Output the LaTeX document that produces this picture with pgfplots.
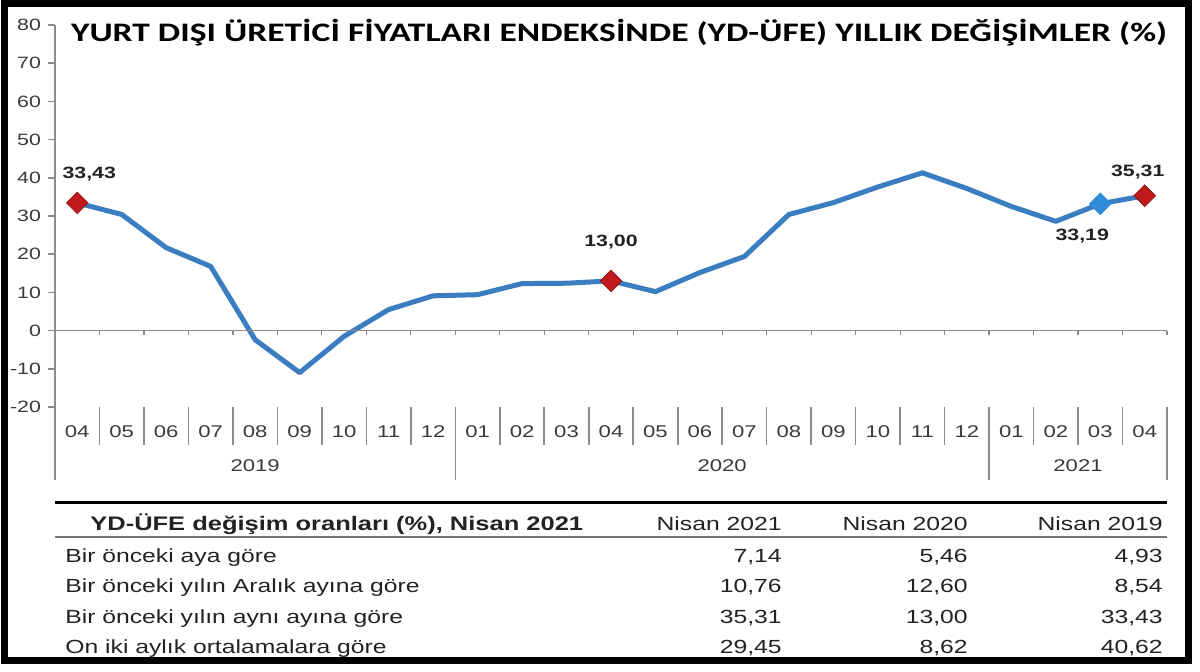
\documentclass[border=0pt]{standalone}
\usepackage{pgfplots}
\pgfplotsset{compat=1.18}
\usepackage{fontspec}
\setmainfont[FakeStretch=1.3]{Liberation Sans}
\newfontfamily\titlefont[FakeStretch=1.33]{Carlito}

\definecolor{lineblue}{HTML}{3A7DC0}
\definecolor{mkblue}{HTML}{2F8BDA}
\definecolor{mkred}{HTML}{BE1A1A}
\definecolor{axgray}{HTML}{8C8C8C}
\definecolor{txt}{HTML}{222222}
\definecolor{ticktxt}{HTML}{3A3A3A}

\pgfplotstableread{
x y
0 33.43
1 30.4
2 21.7
3 16.8
4 -2.4
5 -11.0
6 -1.5
7 5.5
8 9.1
9 9.4
10 12.3
11 12.4
12 13.00
13 10.2
14 15.2
15 19.4
16 30.4
17 33.5
18 37.6
19 41.3
20 37.2
21 32.5
22 28.6
23 33.19
24 35.31
}\ydufe

\begin{document}
\begin{tikzpicture}
% page = 1200 x 672 px, 1 px = 0.5 pt, axis box south west at px (55,407)
\useasboundingbox (-27.5pt,-132.5pt) rectangle (572.5pt,203.5pt);
\begin{axis}[
    scale only axis,
    width=556pt, height=191pt,
    xmin=-0.5, xmax=24.5,
    ymin=-20, ymax=80,
    clip=false,
    axis line style={draw=none},
    ytick={-20,-10,...,80},
    ytick pos=left,
    xtick pos=left,
    tick align=outside,
    major tick length=3.5pt,
    ytick style={draw=axgray, line width=0.8pt},
    yticklabel style={font=\fontsize{8.2}{9}\selectfont, text=ticktxt},
    /pgf/number format/assume math mode=true,
    xtick={0,...,24},
    xtick style={draw=none},
    xticklabels={04,05,06,07,08,09,10,11,12,01,02,03,04,05,06,07,08,09,10,11,12,01,02,03,04},
    xticklabel style={font=\fontsize{8.5}{9}\selectfont, text=ticktxt, anchor=center, yshift=-9pt},
    nodes near coords style={font=\bfseries\fontsize{8.2}{9}\selectfont, text=txt, anchor=center},
]
\addplot[lineblue, line width=2.5pt, line join=round, mark=none] table {\ydufe};
\addplot[only marks, mark=square*, mark size=3.8pt,
    mark options={rotate=45, fill=mkred, draw=mkred!80!black, line width=0.4pt},
    nodes near coords={33,43}, nodes near coords style={xshift=6pt, yshift=14.5pt}]
    coordinates {(0,33.43)};
\addplot[only marks, mark=square*, mark size=3.8pt,
    mark options={rotate=45, fill=mkred, draw=mkred!80!black, line width=0.4pt},
    nodes near coords={13,00}, nodes near coords style={yshift=19.5pt}]
    coordinates {(12,13.00)};
\addplot[only marks, mark=square*, mark size=3.8pt,
    mark options={rotate=45, fill=mkblue, draw=mkblue, line width=0.4pt},
    nodes near coords={33,19}, nodes near coords style={xshift=-9pt, yshift=-16pt}]
    coordinates {(23,33.19)};
\addplot[only marks, mark=square*, mark size=3.8pt,
    mark options={rotate=45, fill=mkred, draw=mkred!80!black, line width=0.4pt},
    nodes near coords={35,31}, nodes near coords style={xshift=-3.5pt, yshift=12pt}]
    coordinates {(24,35.31)};
\end{axis}

\begin{scope}[x=0.5pt, y=-0.5pt, shift={(-27.5pt,203.5pt)},
    tx/.style={inner sep=0pt, text=txt, font=\fontsize{9.5}{11}\selectfont}]
  % outer frame
  \draw[black, line width=3.5pt] (4.5,4) rectangle (1188.5,660.5);
  % category axis lines
  \draw[axgray, line width=0.8pt] (55,25) -- (55,480);
  \draw[axgray, line width=0.8pt] (55,330.6) -- (1167,330.6);
  \foreach \k in {1,...,25}
    \draw[axgray, line width=0.6pt] ({55+44.48*\k},330.6) -- ++(0,4);
  \foreach \k in {1,...,8,10,11,...,20,22,23,24}
    \draw[axgray, line width=0.8pt] ({55+44.48*\k},407) -- ++(0,38);
  \foreach \k in {9,21,25}
    \draw[axgray, line width=0.8pt] ({55+44.48*\k},407) -- ++(0,73);
  \node[text=ticktxt, font=\fontsize{8.5}{9}\selectfont] at (255.2,466) {2019};
  \node[text=ticktxt, font=\fontsize{8.5}{9}\selectfont] at (722.2,466) {2020};
  \node[text=ticktxt, font=\fontsize{8.5}{9}\selectfont] at (1078,466) {2021};
  % title
  \node[anchor=base, inner sep=0pt, font=\titlefont\bfseries\fontsize{13.35}{15}\selectfont]
    at (619,42) {YURT DIŞI ÜRETİCİ FİYATLARI ENDEKSİNDE (YD-ÜFE) YILLIK DEĞİŞİMLER (\%)};
  % table
  \draw[black, line width=1.5pt] (55,503) -- (1167,503);
  \draw[black!55, line width=1pt] (55,537) -- (1167,537);
  \node[tx, anchor=base west, font=\bfseries\fontsize{9.8}{11}\selectfont] at (90,531)
    {YD-ÜFE değişim oranları (\%), Nisan 2021};
  \node[tx, anchor=base east] at (782,531) {Nisan 2021};
  \node[tx, anchor=base east] at (968,531) {Nisan 2020};
  \node[tx, anchor=base east] at (1163,531) {Nisan 2019};
  % row 1
  \node[tx, anchor=base west] at (65,563) {Bir önceki aya göre};
  \node[tx, anchor=base east] at (782,563) {7,14};
  \node[tx, anchor=base east] at (968,563) {5,46};
  \node[tx, anchor=base east] at (1163,563) {4,93};
  % row 2
  \node[tx, anchor=base west] at (65,593) {Bir önceki yılın Aralık ayına göre};
  \node[tx, anchor=base east] at (782,593) {10,76};
  \node[tx, anchor=base east] at (968,593) {12,60};
  \node[tx, anchor=base east] at (1163,593) {8,54};
  % row 3
  \node[tx, anchor=base west] at (65,624) {Bir önceki yılın aynı ayına göre};
  \node[tx, anchor=base east] at (782,624) {35,31};
  \node[tx, anchor=base east] at (968,624) {13,00};
  \node[tx, anchor=base east] at (1163,624) {33,43};
  % row 4
  \node[tx, anchor=base west] at (65,654) {On iki aylık ortalamalara göre};
  \node[tx, anchor=base east] at (782,654) {29,45};
  \node[tx, anchor=base east] at (968,654) {8,62};
  \node[tx, anchor=base east] at (1163,654) {40,62};
\end{scope}
\end{tikzpicture}
\end{document}
